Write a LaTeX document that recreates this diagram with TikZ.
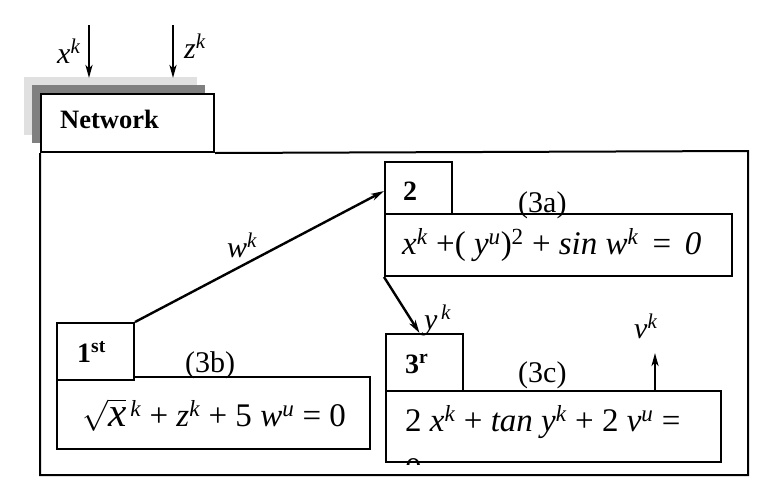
\documentclass[tikz,border=0pt]{standalone}
\usepackage{fontspec}
\setmainfont{Liberation Serif}
\usetikzlibrary{arrows.meta}
\newcommand\kk[1]{\textsuperscript{\textit{#1}}}
\begin{document}
\begin{tikzpicture}[x=1pt,y=-1pt,
  box/.style={draw,line width=2pt,fill=white,anchor=north west,inner sep=0pt},
  lbl/.style={anchor=base west,inner sep=0pt,font=\fontsize{30}{36}\selectfont},
  tablbl/.style={anchor=base west,inner sep=0pt,font=\fontsize{28}{32}\selectfont\bfseries},
  eqtxt/.style={anchor=base west,inner sep=0pt,font=\fontsize{33}{38}\selectfont},
  arr/.style={line width=2.4pt,-{Stealth[length=13pt,width=7pt,inset=3.5pt]}},
  frame/.style={line width=2pt}]
\useasboundingbox (0,0) rectangle (763,493);
% network tab with shadows
\fill[black!12] (24,77) rectangle (197,135);
\fill[black!50] (32,85) rectangle (205,143);
\node[box,minimum width=173,minimum height=58] (net) at (40,93) {};
\node[anchor=base west,inner sep=0pt,font=\fontsize{26.5}{30}\selectfont\bfseries] (nettxt) at (60,128) {Network};
% frame
\draw[frame] (net.south east) -- (748,151) -- (748,475) -- (40,475) -- (net.south west);
% inputs
\coordinate (xs) at (89,25); \coordinate (xe) at (89,78);
\coordinate (zs) at (173,25); \coordinate (ze) at (173,78);
\draw[arr] (xs) -- (xe);
\draw[arr] (zs) -- (ze);
\node[lbl] (xlab) at (57,63) {\textit{x}\kk{k}};
\node[lbl] (zlab) at (184,58) {\textit{z}\kk{k}};
% block 2
\node[box,minimum width=347,minimum height=62] (eq2) at (384,213) {};
\node[box,minimum width=67,minimum height=52] (tab2) at (384,161) {};
\node[tablbl] (t2) at (403,200) {2};
\node[lbl] (l3a) at (518,212) {(3a)};
\node[eqtxt] (e2) at (402,254) {\textit{x}\kk{k} +( \textit{y}\kk{u})\textsuperscript{2} + \textit{sin w}\kk{k} \,=\, \textit{0}};
% block 1
\node[box,minimum width=313,minimum height=72] (eq1) at (56,376) {};
\node[box,minimum width=77,minimum height=57] (tab1) at (56,322) {};
\node[tablbl] (t1) at (77,362) {1\textsuperscript{st}};
\node[lbl] (l3b) at (185,372) {(3b)};
\node[eqtxt] (e1) at (82,426) {\scalebox{1.25}{$\sqrt{\textit{x}}$}\kk{\,k} + \textit{z}\kk{k} + 5 \textit{w}\kk{u} = 0};
% block 3
\node[box,minimum width=335,minimum height=71] (eq3) at (385,390) {};
\node[box,minimum width=77,minimum height=57] (tab3) at (385,333) {};
\node[tablbl] (t3) at (405,373) {3\textsuperscript{r}};
\node[lbl] (l3c) at (518,382) {(3c)};
\begin{scope}
\clip (eq3.north west) rectangle ([yshift=-1.5pt]eq3.south east);
\node[eqtxt] (e3) at (405,431) {2 \textit{x}\kk{k} + \textit{tan y}\kk{k} + 2 \textit{v}\kk{u} =};
\node[eqtxt] (e3b) at (405,480) {0};
\end{scope}
% connectors
\draw[arr] (tab1.north east) -- ([yshift=-3pt]tab2.west);
\node[lbl] (wlab) at (227,257) {\textit{w}\kk{k}};
\draw[arr] (eq2.south west) -- ([xshift=-5pt]tab3.north);
\node[lbl] (ylab) at (424,329) {\textit{y}\kk{\,k}};
\coordinate (vs) at (655,390); \coordinate (ve) at (655,353);
\draw[arr] (vs) -- (ve);
\node[lbl] (vlab) at (634,338) {\textit{v}\kk{k}};
\end{tikzpicture}
\end{document}
